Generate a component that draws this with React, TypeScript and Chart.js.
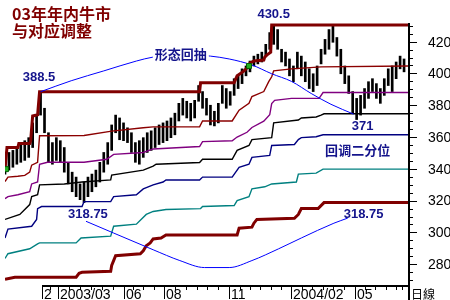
import React, { useEffect, useRef } from "react";
import { Chart, registerables } from "chart.js";

Chart.register(...registerables);

// ---------- data (x = trading-day index, y = index value) ----------
const priceDays = [0, 4, 8, 12, 16, 20, 24, 28, 32, 36, 40, 44, 48, 52, 56, 60, 64, 68, 72, 76, 80, 84, 88, 92, 96, 100, 104, 108, 112, 116, 120, 124, 128, 132, 136, 140, 144, 148, 152, 156, 160, 164, 168, 172, 176, 180, 184, 188, 192, 196, 200, 204, 208, 212, 216, 220, 224, 228, 232, 236, 240, 244, 248, 252, 256, 260, 264, 268, 272, 276, 280, 284, 288, 292, 296, 300, 304, 308, 312, 316, 320, 324, 328, 332, 336, 340, 344, 348, 352, 356, 360, 364, 368, 372, 376, 380, 384, 388, 392, 396, 400, 404];
const priceHigh = [344.1, 350.3, 351.6, 353.4, 356.5, 357.7, 359.6, 368.9, 373.8, 388.5, 378.1, 362.7, 356.5, 359.6, 357.7, 353.4, 344.1, 337.9, 334.8, 330.5, 331.7, 334.8, 336.7, 339.2, 344.1, 350.3, 356.5, 367.6, 373.8, 372.0, 368.9, 365.8, 362.7, 356.5, 357.7, 359.6, 362.7, 363.9, 365.8, 367.6, 368.9, 370.1, 372.0, 375.0, 381.2, 384.3, 382.5, 381.2, 383.1, 392.4, 388.6, 384.3, 380.0, 376.2, 381.2, 392.4, 390.5, 388.6, 396.7, 398.5, 402.9, 404.7, 407.8, 410.9, 412.1, 413.4, 418.3, 425.7, 430.5, 427.6, 415.2, 413.4, 409.1, 404.7, 413.4, 410.9, 407.2, 402.9, 399.8, 404.7, 415.2, 421.4, 427.6, 430.3, 422.6, 415.2, 404.7, 398.5, 388.6, 384.3, 386.2, 390.5, 394.8, 396.7, 393.6, 390.5, 396.7, 402.9, 404.7, 407.2, 410.9, 409.1];
const priceLow = [336.7, 339.2, 341.0, 342.9, 344.1, 345.3, 347.2, 353.4, 362.7, 373.8, 362.7, 344.1, 342.9, 345.3, 344.1, 337.9, 330.5, 325.6, 322.5, 320.6, 318.75, 322.5, 325.6, 328.7, 331.7, 337.9, 342.9, 351.6, 362.7, 358.3, 357.7, 356.5, 350.3, 344.1, 342.9, 347.2, 350.3, 351.6, 353.4, 355.3, 356.5, 357.7, 359.6, 361.4, 370.1, 373.8, 372.0, 370.1, 372.0, 382.5, 378.1, 373.8, 367.6, 367.0, 368.9, 381.2, 378.1, 380.0, 386.2, 390.5, 393.6, 398.5, 401.0, 404.7, 406.0, 407.2, 410.9, 415.2, 418.3, 415.2, 407.2, 404.7, 398.5, 394.8, 402.9, 398.5, 394.8, 390.5, 388.6, 392.4, 406.0, 412.1, 415.2, 419.6, 410.9, 399.8, 393.6, 387.4, 375.0, 371.0, 373.8, 378.1, 384.3, 388.6, 384.3, 381.2, 386.2, 392.4, 388.6, 396.7, 402.9, 401.0];

// running high (thick maroon)
const highLineDays = [0, 2, 13, 14, 25, 26, 27, 28, 33, 35, 197, 198, 232, 235, 238, 242, 247, 248, 252, 262, 263, 265, 269, 270, 408];
const highLineVals = [339.8, 353.4, 353.4, 355.9, 355.9, 357.7, 365.8, 373.2, 374.0, 388.5, 388.5, 394.2, 394.2, 398.5, 399.8, 401.6, 404.7, 406.6, 407.8, 408.4, 410.3, 411.5, 413.4, 430.5, 430.5];
// retracement levels
const level1Days = [0, 3, 13, 20, 25, 27, 33, 35, 80, 108, 140, 150, 197, 200, 230, 237, 247, 250, 262, 267, 270, 272, 290, 320, 408];
const level1Vals = [332.0, 334.8, 335.3, 335.9, 337.9, 342.3, 344.1, 360.8, 361.0, 363.7, 365.8, 366.4, 366.4, 370.1, 370.1, 376.9, 381.2, 385.5, 388.6, 394.8, 397.9, 401.6, 402.9, 404.1, 404.7];
const level2Days = [0, 3, 13, 25, 27, 33, 35, 43, 80, 103, 110, 140, 150, 197, 200, 230, 235, 245, 250, 262, 268, 270, 273, 290, 318, 322, 408];
const level2Vals = [321.2, 322.5, 323.7, 325.6, 330.5, 331.7, 342.9, 344.1, 344.1, 346.0, 349.1, 350.3, 352.5, 354.0, 357.1, 357.7, 360.0, 363.0, 366.0, 370.0, 374.0, 381.0, 383.1, 384.3, 384.3, 388.0, 388.0];
const level3Days = [0, 15, 25, 27, 33, 35, 60, 78, 107, 108, 140, 150, 153, 197, 200, 230, 235, 247, 250, 270, 272, 297, 300, 315, 320, 323, 408];
const level3Vals = [308.2, 311.3, 317.5, 322.5, 323.7, 329.9, 330.5, 331.7, 333.0, 336.1, 339.2, 341.7, 342.9, 344.0, 346.0, 346.0, 351.6, 354.7, 358.4, 359.6, 368.9, 370.7, 372.0, 372.6, 373.8, 374.6, 374.6];
const level4Days = [0, 3, 27, 32, 33, 37, 78, 80, 107, 110, 133, 140, 150, 160, 163, 197, 200, 230, 237, 247, 250, 268, 270, 293, 297, 300, 315, 322, 408];
const level4Vals = [296.5, 302.1, 303.9, 308.2, 315.0, 316.3, 316.3, 319.4, 319.4, 322.5, 323.7, 327.4, 329.9, 331.7, 333.0, 333.0, 334.8, 334.8, 341.0, 342.9, 347.2, 348.4, 354.7, 355.3, 358.4, 359.6, 360.2, 361.4, 361.4];
const level5Days = [0, 3, 25, 33, 35, 72, 77, 107, 110, 133, 143, 150, 163, 198, 200, 232, 235, 247, 250, 263, 270, 295, 297, 315, 322, 408];
const level5Vals = [283.6, 286.6, 289.7, 292.8, 293.4, 293.4, 296.5, 297.7, 303.9, 305.2, 311.3, 313.2, 314.4, 315.0, 316.3, 316.9, 320.0, 322.5, 327.4, 328.7, 330.5, 331.7, 336.7, 337.3, 339.8, 339.8];
// lower thick maroon
const baseLineDays = [0, 10, 72, 75, 78, 107, 108, 112, 137, 140, 143, 147, 150, 158, 163, 235, 237, 250, 252, 255, 293, 297, 300, 317, 323, 408];
const baseLineVals = [270.6, 271.8, 271.8, 274.3, 274.9, 275.5, 279.2, 285.4, 286.6, 288.5, 291.6, 293.4, 295.9, 296.5, 298.4, 298.4, 302.7, 303.3, 305.8, 308.2, 308.9, 311.3, 315.0, 315.0, 318.75, 318.75];
// "形态回抽" arcs
const upperArcDays = [36, 67, 100, 133, 150, 180, 208, 227, 250, 270, 290, 310, 330, 353];
const upperArcVals = [388.5, 395.4, 401.6, 407.8, 410.3, 412.1, 410.9, 409.1, 405.3, 399.8, 395.0, 387.4, 380.6, 374.4];
const lowerArcDays = [82, 110, 150, 177, 202, 227, 250, 277, 300, 333, 347];
const lowerArcVals = [307.0, 299.6, 289.1, 282.3, 277.9, 277.9, 282.3, 289.7, 296.5, 305.8, 309.0];
// signal markers
const markerDays = [1, 247];
const markerVals = [339.8, 404.7];

// axis ticks
const yTickValues = [280, 300, 320, 340, 360, 380, 400, 420];
const monthDays = [37, 54, 76, 98, 120, 140, 161, 183, 205, 227, 248, 269, 290, 311, 332, 354, 375, 396];
const monthLabels = ["2", "2003/03", "", "", "06", "", "08", "", "", "11", "", "", "2004/02", "", "", "05", "", ""];
const periodLabel = "日線";

// notes
const titleLines = ["03年年内牛市", "与对应调整"];
const noteTexts = ["388.5", "430.5", "形态回抽", "371", "回调二分位", "318.75", "318.75"];
const noteDays = [34.5, 272, 178, 362, 357, 84, 363];
const noteVals = [397.6, 436.9, 412.2, 366.4, 351.6, 311.4, 311.4];

const NOTE_COLOR = "#14148c";
const NUM_FONT = 'bold 13px "Liberation Sans", Arial, sans-serif';
const CJK_NOTE_FONT = 'bold 13px "Noto Sans CJK SC", sans-serif';
const AXIS_FONT = '14px "Liberation Sans Narrow", "Liberation Sans", Arial, sans-serif';

const decor = {
  id: "decor",
  afterDatasetsDraw(chart: any) {
    const ctx = chart.ctx as CanvasRenderingContext2D;
    const xs = chart.scales.x;
    const ys = chart.scales.y;
    ctx.save();
    ctx.textAlign = "center";
    ctx.textBaseline = "middle";
    noteTexts.forEach((t, i) => {
      const px = xs.getPixelForValue(noteDays[i]);
      const py = ys.getPixelForValue(noteVals[i]);
      const isNum = /^[0-9.]+$/.test(t);
      ctx.font = isNum ? NUM_FONT : CJK_NOTE_FONT;
      if (!isNum && i === 2) {
        const w = ctx.measureText(t).width;
        ctx.fillStyle = "#fff";
        ctx.fillRect(px - w / 2 - 2, py - 8, w + 4, 16);
      }
      ctx.fillStyle = NOTE_COLOR;
      ctx.fillText(t, px, py);
    });
    ctx.restore();
  },
  afterDraw(chart: any) {
    const ctx = chart.ctx as CanvasRenderingContext2D;
    const xs = chart.scales.x;
    const ys = chart.scales.y;
    const ca = chart.chartArea;
    ctx.save();
    ctx.fillStyle = "#000";
    // right axis
    const ax = Math.round(ca.right);
    const axTop = Math.round(ys.getPixelForValue(432));
    ctx.fillRect(ax, axTop, 2, chart.height - axTop);
    for (let v = 270; v <= 430; v += 5) {
      const py = Math.round(ys.getPixelForValue(v));
      if (py < axTop || py > ca.bottom) continue;
      const len = v % 20 === 0 ? 7 : 3;
      ctx.fillRect(ax + 2, py, len, 1);
    }
    ctx.font = AXIS_FONT;
    ctx.textAlign = "left";
    ctx.textBaseline = "middle";
    yTickValues.forEach((v) => {
      ctx.fillText(String(v), ax + 20, ys.getPixelForValue(v) + 1);
    });
    // bottom axis
    const by = Math.round(ca.bottom);
    const bx0 = Math.round(xs.getPixelForValue(monthDays[0]));
    ctx.fillRect(bx0, by - 1, ax - bx0 + 2, 2);
    ctx.textBaseline = "alphabetic";
    monthDays.forEach((d, i) => {
      const px = Math.round(xs.getPixelForValue(d));
      const major = monthLabels[i] !== "";
      ctx.fillRect(px, by, 1, major ? 13 : 4);
      if (major) ctx.fillText(monthLabels[i], px + 2, by + 13);
      const next = i + 1 < monthDays.length ? monthDays[i + 1] : 408;
      const mid = Math.round(xs.getPixelForValue((d + next) / 2));
      if (mid < ax - 2) ctx.fillRect(mid, by, 1, 4);
    });
    ctx.font = '12px "Noto Sans CJK SC", sans-serif';
    ctx.fillText(periodLabel, ax + 3, by + 13);
    // title
    ctx.fillStyle = "#800000";
    ctx.font = 'bold 16px "Noto Sans CJK SC", sans-serif';
    ctx.textBaseline = "middle";
    ctx.fillText(titleLines[0], 12, 14);
    ctx.fillText(titleLines[1], 12, 31);
    ctx.restore();
  },
};

export default function App() {
  const ref = useRef<HTMLCanvasElement>(null);
  useEffect(() => {
    const canvas = ref.current;
    if (!canvas) return;
    const pts = (days: number[], vals: number[]) => days.map((d, i) => ({ x: d, y: vals[i] }));
    const line = (label: string, days: number[], vals: number[], color: string, width: number, order: number, smooth = false) => ({
      type: "line" as const,
      label,
      data: pts(days, vals),
      borderColor: color,
      backgroundColor: color,
      borderWidth: width,
      pointRadius: 0,
      tension: smooth ? 0.4 : 0,
      cubicInterpolationMode: smooth ? ("monotone" as const) : ("default" as const),
      fill: false,
      order,
    });
    const chart = new Chart(canvas, {
      type: "bar",
      data: {
        datasets: [
          {
            type: "scatter" as const,
            label: "signal",
            data: pts(markerDays, markerVals),
            pointStyle: "rect",
            pointRadius: 3.5,
            backgroundColor: "#22b022",
            borderColor: "#006000",
            borderWidth: 1,
            order: -1,
          } as any,
          line("upperArc", upperArcDays, upperArcVals, "#0000ff", 1, 0, true),
          line("lowerArc", lowerArcDays, lowerArcVals, "#0000ff", 1, 0, true),
          line("high", highLineDays, highLineVals, "#800000", 3, 1),
          line("base", baseLineDays, baseLineVals, "#800000", 3, 1),
          line("l1", level1Days, level1Vals, "#8b0000", 1.4, 2),
          line("l2", level2Days, level2Vals, "#800080", 1.4, 2),
          line("l3", level3Days, level3Vals, "#000000", 1.4, 2),
          line("l4", level4Days, level4Vals, "#000080", 1.4, 2),
          line("l5", level5Days, level5Vals, "#008080", 1.4, 2),
          {
            type: "bar" as const,
            label: "price",
            data: priceDays.map((d, i) => ({ x: d, y: [priceLow[i], priceHigh[i]] })),
            backgroundColor: "#000",
            borderWidth: 0,
            barThickness: 2,
            grouped: false,
            order: 10,
          } as any,
        ],
      },
      options: {
        animation: false,
        responsive: false,
        devicePixelRatio: 1,
        events: [],
        layout: { padding: 0 },
        plugins: { legend: { display: false }, tooltip: { enabled: false }, title: { display: false } },
        scales: {
          x: {
            type: "linear",
            min: 0,
            max: 408,
            offset: false,
            grid: { display: false, drawTicks: false },
            border: { display: false },
            ticks: { display: false },
            afterFit: (s: any) => {
              s.height = 14;
            },
          },
          y: {
            type: "linear",
            position: "right",
            min: 266.3,
            max: 443.05,
            grid: { display: false, drawTicks: false },
            border: { display: false },
            ticks: { display: false },
            afterFit: (s: any) => {
              s.width = 42;
            },
          },
        },
      } as any,
      plugins: [decor],
    });
    return () => chart.destroy();
  }, []);
  return (
    <div style={{ position: "fixed", left: 0, top: 0, width: 450, height: 300, background: "#fff" }}>
      <canvas ref={ref} width={450} height={300} style={{ display: "block", width: 450, height: 300 }} />
    </div>
  );
}
